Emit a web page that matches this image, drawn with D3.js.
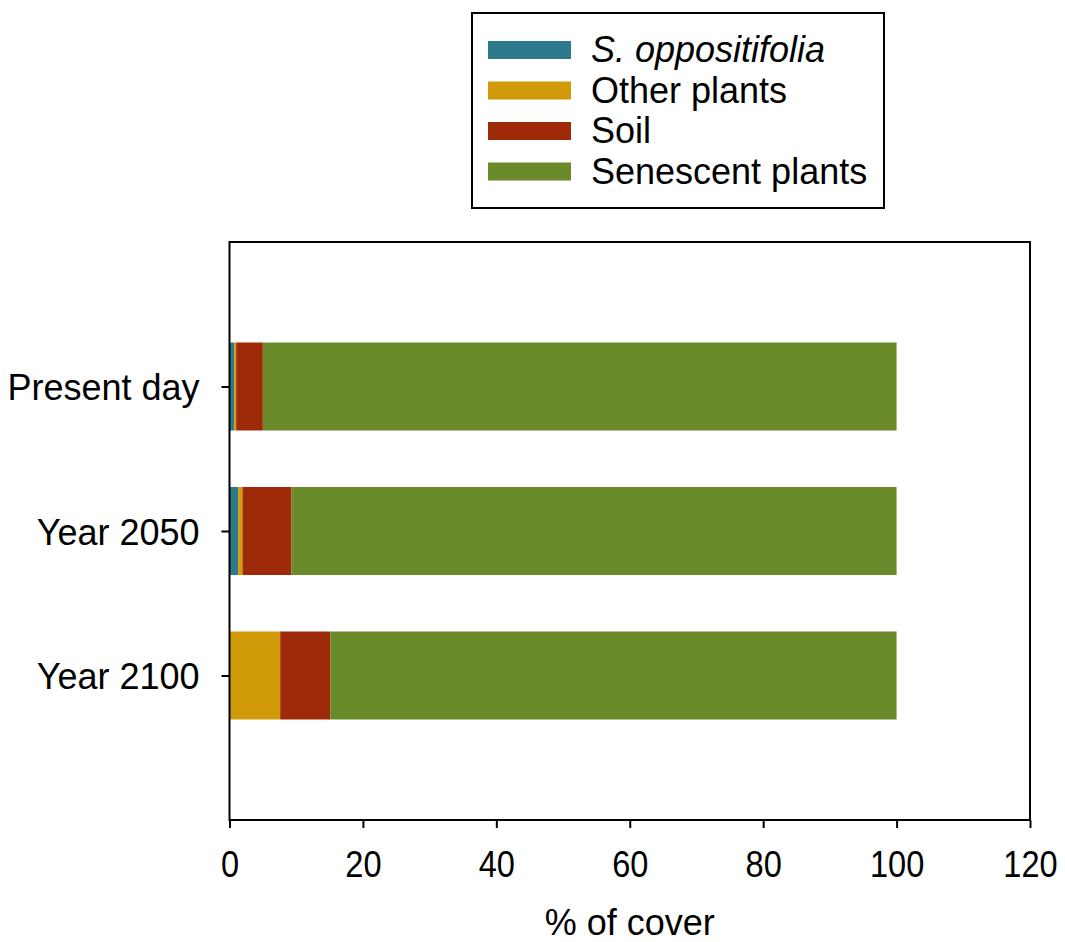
<!DOCTYPE html>
<html><head><meta charset="utf-8">
<script src="https://cdn.jsdelivr.net/npm/d3@7"></script>
<style>body{margin:0;background:#fff}text{font-family:"Liberation Sans",Arial,sans-serif;fill:#000}</style>
</head><body>
<svg id="c" width="1065" height="942"></svg>
<script>
const categories = ["Present day", "Year 2050", "Year 2100"];
const seriesNames = ["S. oppositifolia", "Other plants", "Soil", "Senescent plants"];
const sOppositifolia = [0.7, 1.3, 0.0];
const otherPlants = [0.3, 0.65, 7.6];
const soil = [4.0, 7.35, 7.5];
const senescent = [95.0, 90.7, 84.9];
const xTicks = [0, 20, 40, 60, 80, 100, 120];
const colors = ["#2e7a8d", "#d09a08", "#9e2a0a", "#6b8a2a"];

const svg = d3.select("#c");
const L = 229.5, R = 1030, T = 242, B = 820;
const x = d3.scaleLinear().domain([0, 120]).range([L, R]);
const y = d3.scalePoint().domain(categories).range([T, B]).padding(1);
const barH = 88;
const FONT = "Liberation Sans, Arial, sans-serif";

const rows = categories.map((c, i) => ({cat: c, v: [sOppositifolia[i], otherPlants[i], soil[i], senescent[i]]}));
const stacked = d3.stack().keys([0,1,2,3]).value((d, k) => d.v[k])(rows);

stacked.forEach((layer, k) => {
  svg.append("g").selectAll("rect").data(layer).join("rect")
    .attr("x", d => x(d[0]))
    .attr("width", d => Math.max(0, x(d[1]) - x(d[0])))
    .attr("y", d => y(d.data.cat) - barH/2)
    .attr("height", barH)
    .attr("fill", colors[k]);
});

// frame
svg.append("rect").attr("x", L).attr("y", T).attr("width", R - L).attr("height", B - T)
  .attr("fill", "none").attr("stroke", "#000").attr("stroke-width", 2);

// x axis
const xa = svg.append("g").attr("transform", `translate(0,${B})`)
  .call(d3.axisBottom(x).tickValues(xTicks).tickSize(8).tickPadding(14).tickFormat(d3.format("d")));
xa.select(".domain").remove();
xa.selectAll("line").attr("stroke", "#000").attr("stroke-width", 2);
xa.selectAll("text").attr("dy", null).attr("y", 57).attr("transform", "scale(0.88,1)")
  .style("font-size", "37px").style("font-family", FONT);

// y axis
const ya = svg.append("g").attr("transform", `translate(${L},0)`)
  .call(d3.axisLeft(y).tickSize(8).tickPadding(22));
ya.select(".domain").remove();
ya.selectAll("line").attr("stroke", "#000").attr("stroke-width", 2);
ya.selectAll("text").attr("dy", null).attr("y", 13)
  .style("font-size", "36px").style("font-family", FONT);

svg.append("text").attr("x", (L + R) / 2).attr("y", 935).attr("text-anchor", "middle")
  .style("font-size", "36px").text("% of cover");

// legend
const lg = svg.append("g");
lg.append("rect").attr("x", 472).attr("y", 13).attr("width", 412).attr("height", 195)
  .attr("fill", "#fff").attr("stroke", "#000").attr("stroke-width", 2);
seriesNames.forEach((n, i) => {
  const cy = 50 + i * 40.5;
  lg.append("rect").attr("x", 488).attr("y", cy - 9).attr("width", 83).attr("height", 18).attr("fill", colors[i]);
  lg.append("text").attr("x", 591).attr("y", cy + 12).style("font-size", "36px")
    .style("font-style", i === 0 ? "italic" : "normal").text(n);
});
</script>
</body></html>
